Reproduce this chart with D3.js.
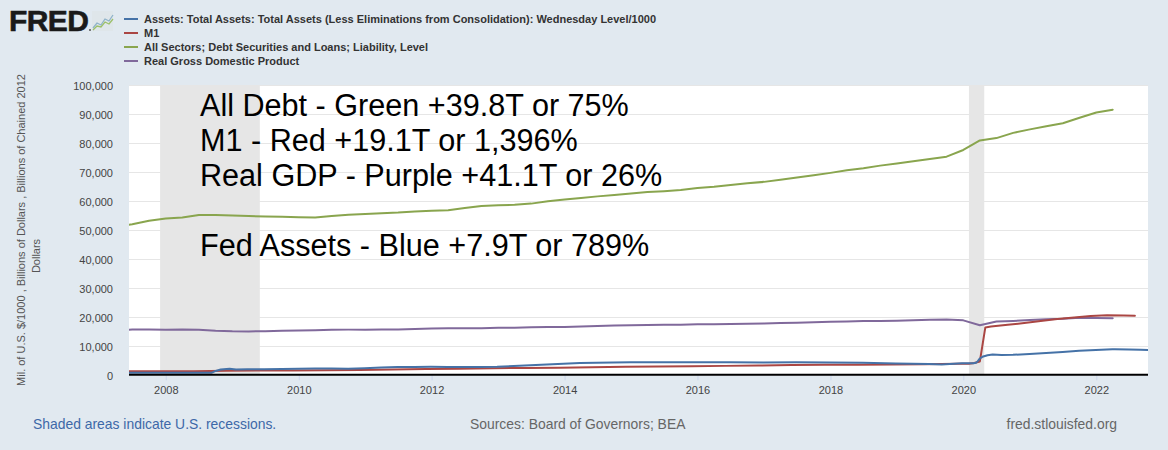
<!DOCTYPE html>
<html><head><meta charset="utf-8">
<script src="https://cdn.jsdelivr.net/npm/d3@7"></script>
<style>
html,body{margin:0;padding:0;background:#e1e9f0;}
svg{display:block;font-family:"Liberation Sans",Arial,sans-serif;}
</style></head>
<body>
<svg id="c" width="1168" height="450"></svg>
<script>
// ---------------- data ----------------
const seriesNames = [
  "Assets: Total Assets: Total Assets (Less Eliminations from Consolidation): Wednesday Level/1000",
  "M1",
  "All Sectors; Debt Securities and Loans; Liability, Level",
  "Real Gross Domestic Product"
];
const seriesColors = ["#4572a7", "#aa4643", "#89a54e", "#80699b"];

// Fed total assets (weekly, sampled), billions
const fedDates = ["2007-06-13","2007-09-12","2007-12-12","2008-03-12","2008-06-11","2008-09-10","2008-09-17","2008-10-01","2008-10-29","2008-12-17","2009-01-21","2009-03-25","2009-06-24","2009-09-30","2009-12-30","2010-03-31","2010-06-30","2010-09-29","2010-12-29","2011-03-30","2011-06-29","2011-09-28","2011-12-28","2012-03-28","2012-06-27","2012-09-26","2012-12-26","2013-03-27","2013-06-26","2013-09-25","2013-12-25","2014-03-26","2014-06-25","2014-09-24","2014-12-31","2015-06-24","2015-12-30","2016-06-29","2016-12-28","2017-06-28","2017-12-27","2018-06-27","2018-12-26","2019-06-26","2019-09-04","2019-12-25","2020-02-26","2020-03-11","2020-03-18","2020-03-25","2020-04-01","2020-04-15","2020-05-13","2020-06-10","2020-07-29","2020-09-30","2020-12-30","2021-03-31","2021-06-30","2021-09-29","2021-12-29","2022-03-30","2022-04-13","2022-06-29","2022-08-31","2022-10-12"];
const fedValues = [880,875,880,890,900,905,1100,1500,1970,2260,2000,2070,2050,2150,2240,2330,2360,2300,2420,2650,2870,2850,2930,2900,2870,2820,2910,3220,3460,3720,4010,4220,4370,4430,4500,4480,4490,4460,4450,4470,4450,4320,4080,3860,3760,4170,4160,4360,4670,5250,5800,6370,6930,7170,6960,7060,7360,7690,8060,8450,8760,8940,8970,8910,8830,8750];

// M1 (monthly, sampled), billions
const m1Dates = ["2007-06-01","2007-12-01","2008-06-01","2008-09-01","2008-12-01","2009-06-01","2009-12-01","2010-06-01","2010-12-01","2011-06-01","2011-12-01","2012-06-01","2012-12-01","2013-06-01","2013-12-01","2014-06-01","2014-12-01","2015-06-01","2015-12-01","2016-06-01","2016-12-01","2017-06-01","2017-12-01","2018-06-01","2018-12-01","2019-06-01","2019-12-01","2020-02-01","2020-03-01","2020-04-01","2020-05-01","2020-06-01","2020-09-01","2020-12-01","2021-03-01","2021-06-01","2021-09-01","2021-12-01","2022-03-01","2022-06-01","2022-08-01"];
const m1Values = [1370,1375,1395,1450,1600,1660,1695,1720,1835,1960,2160,2290,2460,2560,2640,2800,2930,3030,3090,3250,3340,3520,3610,3660,3750,3840,3980,4010,4260,4780,16500,16800,17400,18000,18700,19400,19900,20430,20700,20650,20530];

// Quarterly dates for debt and GDP
const qDates = ["2007-04-01","2007-07-01","2007-10-01","2008-01-01","2008-04-01","2008-07-01","2008-10-01","2009-01-01","2009-04-01","2009-07-01","2009-10-01","2010-01-01","2010-04-01","2010-07-01","2010-10-01","2011-01-01","2011-04-01","2011-07-01","2011-10-01","2012-01-01","2012-04-01","2012-07-01","2012-10-01","2013-01-01","2013-04-01","2013-07-01","2013-10-01","2014-01-01","2014-04-01","2014-07-01","2014-10-01","2015-01-01","2015-04-01","2015-07-01","2015-10-01","2016-01-01","2016-04-01","2016-07-01","2016-10-01","2017-01-01","2017-04-01","2017-07-01","2017-10-01","2018-01-01","2018-04-01","2018-07-01","2018-10-01","2019-01-01","2019-04-01","2019-07-01","2019-10-01","2020-01-01","2020-04-01","2020-07-01","2020-10-01","2021-01-01","2021-04-01","2021-07-01","2021-10-01","2022-01-01","2022-04-01"];
const debtValues = [51200,52100,53300,54100,54400,55300,55300,55100,54900,54800,54700,54500,54400,54900,55400,55600,55900,56100,56500,56700,56900,57700,58400,58600,58800,59200,60000,60600,61100,61700,62200,62700,63200,63500,63900,64600,65000,65600,66200,66700,67400,68200,69000,69800,70700,71400,72300,73000,73800,74600,75400,77700,81000,81800,83600,84800,85900,86900,88800,90600,91600];
const gdpValues = [15700,15762,15762,15671,15752,15667,15329,15158,15134,15190,15356,15416,15557,15672,15750,15713,15825,15820,16004,16130,16198,16221,16240,16380,16404,16528,16680,16654,16852,17042,17144,17274,17370,17440,17463,17566,17619,17725,17812,17897,17998,18140,18296,18437,18565,18699,18733,18836,18982,19113,19202,18952,17258,18561,18767,19056,19368,19478,19806,19727,19700];

const recessions = [["2007-12-01","2009-06-01"],["2020-02-01","2020-04-25"]];
const yTicks = [0,10000,20000,30000,40000,50000,60000,70000,80000,90000,100000];
const xTickYears = [2008,2010,2012,2014,2016,2018,2020,2022];
const notes = ["All Debt - Green +39.8T or 75%","M1 - Red +19.1T or 1,396%","Real GDP - Purple +41.1T or 26%","","Fed Assets - Blue +7.9T or 789%"];

// ---------------- drawing ----------------
const parse = d3.timeParse("%Y-%m-%d");
const svg = d3.select("#c");
const L = 129, R = 1148, T = 85.3, B = 375.3;

const x = d3.scaleTime().domain([parse("2007-06-13"), parse("2022-10-12")]).range([L, R]);
const y = d3.scaleLinear().domain([0, 100000]).range([B, T]);

svg.append("rect").attr("width",1168).attr("height",450).attr("fill","#e1e9f0");
svg.append("rect").attr("x",L).attr("y",T).attr("width",R-L).attr("height",B-T).attr("fill","#ffffff");

svg.append("defs").append("clipPath").attr("id","pc")
  .append("rect").attr("x",L).attr("y",T-2).attr("width",R-L).attr("height",B-T+2);

// recession bands
svg.append("g").selectAll("rect").data(recessions).join("rect")
  .attr("x", d => x(parse(d[0]))).attr("y", T)
  .attr("width", d => x(parse(d[1])) - x(parse(d[0]))).attr("height", B - T)
  .attr("fill", "#e6e6e6");

// gridlines
svg.append("g").selectAll("line").data(yTicks.filter(v => v > 0)).join("line")
  .attr("x1", L).attr("x2", R).attr("y1", d => Math.round(y(d)) + 0.5).attr("y2", d => Math.round(y(d)) + 0.5)
  .attr("stroke", "#e6e6e6").attr("stroke-width", 1);

// y labels
const yAxis = d3.axisLeft(y).tickValues(yTicks).tickFormat(d3.format(",")).tickSize(0).tickPadding(0);
const gy = svg.append("g").attr("transform", `translate(${L-16},0)`).call(yAxis);
gy.select(".domain").remove();
gy.selectAll("text").attr("font-size", 11).attr("fill", "#444").attr("font-family", "Liberation Sans, Arial, sans-serif").attr("dy","0.35em");

// x axis
const xAxis = d3.axisBottom(x).tickValues(xTickYears.map(yr => new Date(yr,0,1))).tickFormat(d3.timeFormat("%Y")).tickSize(5).tickPadding(6);
const gx = svg.append("g").attr("transform", `translate(0,${B})`).call(xAxis);
gx.select(".domain").remove();
gx.selectAll("line").attr("stroke", "#ccd6eb");
gx.selectAll("text").attr("font-size", 11).attr("fill", "#444").attr("font-family", "Liberation Sans, Arial, sans-serif");

// lines
const line = d3.line().x(d => x(d[0])).y(d => y(d[1]));
const zip = (ds, vs) => ds.map((d, i) => [parse(d), vs[i]]);
const seriesData = [zip(fedDates, fedValues), zip(m1Dates, m1Values), zip(qDates, debtValues), zip(qDates, gdpValues)];
const gl = svg.append("g").attr("clip-path", "url(#pc)");
[3, 2, 1, 0].forEach(i => {
  gl.append("path").datum(seriesData[i]).attr("d", line)
    .attr("fill", "none").attr("stroke", seriesColors[i]).attr("stroke-width", 2)
    .attr("stroke-linejoin", "round").attr("stroke-linecap", "round");
});

// bottom axis line
svg.append("line").attr("x1", L).attr("x2", R).attr("y1", B - 0.5).attr("y2", B - 0.5)
  .attr("stroke", "#000").attr("stroke-width", 2);

// annotation text
svg.append("g").selectAll("text").data(notes).join("text")
  .attr("x", 200).attr("y", (d, i) => 116 + i * 35)
  .attr("font-size", 30.6).attr("fill", "#000").text(d => d);

// y axis title
const yt = svg.append("g").attr("font-size", 11).attr("fill", "#555");
yt.append("text").attr("transform", "translate(25,230) rotate(-90)").attr("text-anchor", "middle")
  .text("Mil. of U.S. $/1000 , Billions of Dollars , Billions of Chained 2012");
yt.append("text").attr("transform", "translate(40,256) rotate(-90)").attr("text-anchor", "middle")
  .text("Dollars");

// legend
const lg = svg.append("g").selectAll("g").data(seriesNames).join("g")
  .attr("transform", (d, i) => `translate(124,${19 + i * 14})`);
lg.append("line").attr("x1", 0).attr("x2", 14).attr("y1", 0).attr("y2", 0)
  .attr("stroke", (d, i) => seriesColors[i]).attr("stroke-width", 2);
lg.append("text").attr("x", 20).attr("y", 4).attr("font-size", 11).attr("font-weight", "bold")
  .attr("fill", "#333").text(d => d);

// FRED logo
const logo = svg.append("g");
logo.append("text").attr("x", 9).attr("y", 31).attr("font-size", 30).attr("font-weight", "bold")
  .attr("letter-spacing", -0.6).attr("fill", "#1a1a1a").attr("stroke", "#1a1a1a").attr("stroke-width", 0.6)
  .attr("font-family", "Liberation Sans, Arial, sans-serif").text("FRED");
logo.append("circle").attr("cx", 90).attr("cy", 30).attr("r", 1).attr("fill", "#555");
const icon = logo.append("g").attr("transform", "translate(92,11)");
icon.append("rect").attr("width", 21).attr("height", 20).attr("fill", "#dfe6ea");
icon.append("polyline").attr("points", "1,17 5,12 9,14 13,8 17,10 21,4")
  .attr("fill", "none").attr("stroke", "#8fb3c9").attr("stroke-width", 1.3);
icon.append("polyline").attr("points", "1,19 5,15 9,16 13,11 17,13 21,8")
  .attr("fill", "none").attr("stroke", "#9cc06a").attr("stroke-width", 1.3);

// footer
svg.append("text").attr("x", 33).attr("y", 429).attr("font-size", 13.9).attr("fill", "#3d68a8")
  .text("Shaded areas indicate U.S. recessions.");
svg.append("text").attr("x", 470).attr("y", 429).attr("font-size", 13.9).attr("fill", "#666")
  .text("Sources: Board of Governors; BEA");
svg.append("text").attr("x", 1117).attr("y", 429).attr("font-size", 13.9).attr("fill", "#666")
  .attr("text-anchor", "end").text("fred.stlouisfed.org");
</script>
</body></html>
